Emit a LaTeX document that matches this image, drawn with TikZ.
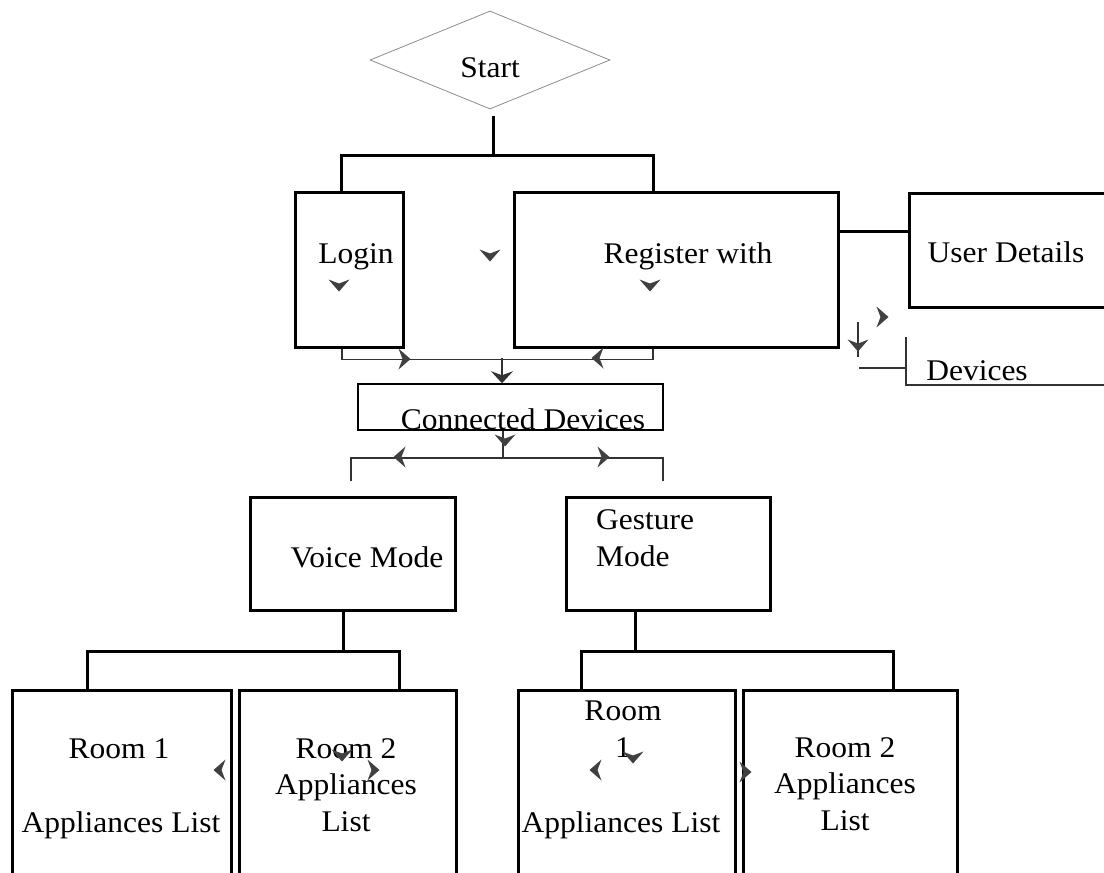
\documentclass[tikz,border=0pt]{standalone}
\usepackage{fontspec}
\setmainfont[FakeStretch=1.05]{Liberation Serif}
\usetikzlibrary{positioning,arrows.meta,shapes.geometric,calc}

\begin{document}
\begin{tikzpicture}[
    x=1pt, y=-1pt,
    box/.style={draw, line width=3pt, inner sep=0pt},
    thinbox/.style={draw, line width=1.5pt, inner sep=0pt},
    txt/.style={font=\fontsize{30}{36.5}\selectfont, inner sep=0pt, anchor=base, align=center},
    link/.style={line width=3pt},
    thinlink/.style={line width=1.5pt, black!80},
    arr/.style={thinlink, -{Stealth[length=12pt, width=22pt, inset=4pt]}},
    chev/.pic={\fill[black!75] (0,6.5) -- (-10.5,-5.5) -- (0,-1.5) -- (10.5,-5.5) -- cycle;},
]
    \clip (0,0) rectangle (1104,873);

    \node[diamond, draw=black!45, line width=0.8pt, minimum width=240pt, minimum height=98pt] (start) at (490,60) {};
    \node[box, minimum width=108pt, minimum height=155pt] (login) at (349,269.5) {};
    \node[box, minimum width=324pt, minimum height=155pt] (register) at (676,269.5) {};
    \node[box, minimum width=216pt, minimum height=114pt] (userd) at (1017,250) {};
    \node[thinbox, minimum width=305pt, minimum height=46pt] (conn) at (510.5,407) {};
    \node[box, minimum width=205pt, minimum height=113pt] (voice) at (352.5,553.5) {};
    \node[box, minimum width=204pt, minimum height=113pt] (gesture) at (668,553.5) {};
    \node[box, minimum width=219pt, minimum height=210pt] (room1) at (121.5,795) {};
    \node[box, minimum width=217pt, minimum height=210pt] (room2) at (347.5,795) {};
    \node[box, minimum width=217pt, minimum height=210pt] (room3) at (626.5,795) {};
    \node[box, minimum width=214pt, minimum height=210pt] (room4) at (850,795) {};
    \coordinate (dv) at (906,385);

    \node[txt] (start-t) at (490,77) {Start};
    \node[txt] (login-t) at (356,263) {Login};
    \node[txt] (register-t) at (688,263) {Register with};
    \node[txt] (userd-t) at (1006,262) {User Details};
    \node[txt] (devices-t) at (977,380) {Devices};
    \node[txt] (conn-t) at (523,429) {Connected Devices};
    \node[txt] (voice-t) at (367,567) {Voice Mode};
    \node[txt, anchor=base west, align=left] (gesture-t) at (596,566) {Gesture\\Mode};
    \node[txt] (room1-a) at (119,758) {Room 1};
    \node[txt] (room1-b) at (121,832) {Appliances List};
    \node[txt] (room2-t) at (346,831) {Room 2\\Appliances\\List};
    \node[txt] (room3-a) at (623,757) {Room\\1};
    \node[txt] (room3-b) at (621,832) {Appliances List};
    \node[txt] (room4-t) at (845,830) {Room 2\\Appliances\\List};

    \draw[link] ($(start.south)+(3,7)$) -- ++(0,39) coordinate (j-top);
    \draw[link] ([xshift=-8pt]login.north) |- (j-top) -| ([xshift=-23pt]register.north);

    \draw[thinlink] ([xshift=-7pt]login.south) -- ++(0,11) coordinate (j-mid) -| ([xshift=-23pt]register.south);
    \draw[arr] ($(conn.north)+(-8.5,-25)$) -- ([xshift=-8.5pt]conn.north);

    \draw[thinlink] ([xshift=-7.5pt]conn.south) -- ++(0,27) coordinate (j-low);
    \draw[thinlink] ($(voice.north)+(-1.5,-15)$) |- (j-low) -| ($(gesture.north)+(-5,-15)$);

    \draw[link] ([xshift=-9.5pt]voice.south) -- ++(0,40) coordinate (j-voice);
    \draw[link] ([xshift=-34.5pt]room1.north) |- (j-voice) -| ([xshift=51.5pt]room2.north);
    \draw[link] ([xshift=-33pt]gesture.south) -- ++(0,40) coordinate (j-gest);
    \draw[link] ([xshift=-45.5pt]room3.north) |- (j-gest) -| ([xshift=43pt]room4.north);

    \path ($(userd.west)+(0,-19)$) coordinate (ud-in);
    \draw[link] (ud-in) -- (ud-in -| register.east);

    \draw[thinlink] ($(dv)+(0,-48)$) -- (dv) -- ++(210,0);
    \draw[thinlink] ($(dv)+(-47,-17)$) -- ++(47,0);
    \draw[thinlink] ($(dv)+(-48,-63)$) -- ++(0,35);

    \foreach \x/\y/\r in {339/285/0, 490/255/0, 650/285/0, 404/359/90, 598/358/-90,
        505/440/0, 400/457/-90, 603/457/90, 858/345/0, 882/317/90,
        220/770/-90, 342/755/0, 373/770/90, 633/757/0, 596/770/-90, 745/772/90} {
        \pic[rotate=\r] at (\x,\y) {chev};
    }
\end{tikzpicture}
\end{document}
